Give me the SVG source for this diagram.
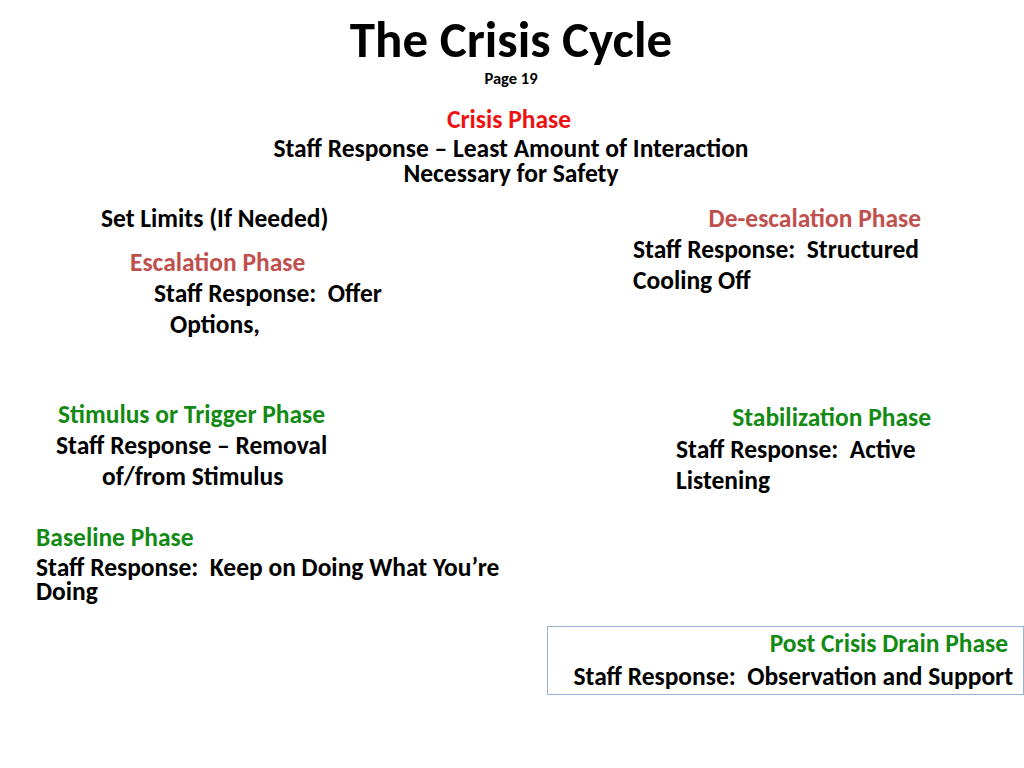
<svg xmlns="http://www.w3.org/2000/svg" width="1024" height="768" viewBox="0 0 1024 768" xml:space="preserve">
<style>
text { font-family: Carlito, Lato, "Liberation Sans", sans-serif; font-weight: bold; font-size: 25.5px; fill: #000; white-space: pre; }
.title { font-size: 51px; }
.page { font-size: 16.5px; }
.red { fill: #EE1111; }
.rose { fill: #C0504D; }
.green { fill: #138A13; }
.box { fill: #fff; stroke: #95B3D7; stroke-width: 1; }
</style>
<rect width="1024" height="768" fill="#fff"/>
<g id="title">
<text class="title" x="511" y="57" text-anchor="middle">The Crisis Cycle</text>
<text class="page" x="511" y="84" text-anchor="middle">Page 19</text>
</g>
<g id="crisis">
<text class="red" x="509" y="128" text-anchor="middle">Crisis Phase</text>
<text x="511" y="157" text-anchor="middle">Staff Response – Least Amount of Interaction</text>
<text x="511" y="182" text-anchor="middle">Necessary for Safety</text>
</g>
<g id="setlimits">
<text x="101" y="227">Set Limits (If Needed)</text>
</g>
<g id="escalation">
<text class="rose" x="130" y="271">Escalation Phase</text>
<text x="154" y="302">Staff Response:  Offer</text>
<text x="170" y="333">Options,</text>
</g>
<g id="deescalation">
<text class="rose" x="921" y="227" text-anchor="end">De-escalation Phase</text>
<text x="633" y="258">Staff Response:  Structured</text>
<text x="633" y="289">Cooling Off</text>
</g>
<g id="stimulus">
<text class="green" x="58" y="423">Stimulus or Trigger Phase</text>
<text x="56" y="454">Staff Response – Removal</text>
<text x="102" y="485">of/from Stimulus</text>
</g>
<g id="stabilization">
<text class="green" x="931" y="426" text-anchor="end">Stabilization Phase</text>
<text x="676" y="458">Staff Response:  Active</text>
<text x="676" y="489">Listening</text>
</g>
<g id="baseline">
<text class="green" x="36" y="546">Baseline Phase</text>
<text x="36" y="576">Staff Response:  Keep on Doing What You’re</text>
<text x="36" y="600">Doing</text>
</g>
<g id="postcrisis">
<rect class="box" x="547.5" y="626.5" width="476" height="68"/>
<text class="green" x="1008" y="652" text-anchor="end">Post Crisis Drain Phase</text>
<text x="1013" y="685" text-anchor="end">Staff Response:  Observation and Support</text>
</g>
<g id="connectors"></g>
</svg>
